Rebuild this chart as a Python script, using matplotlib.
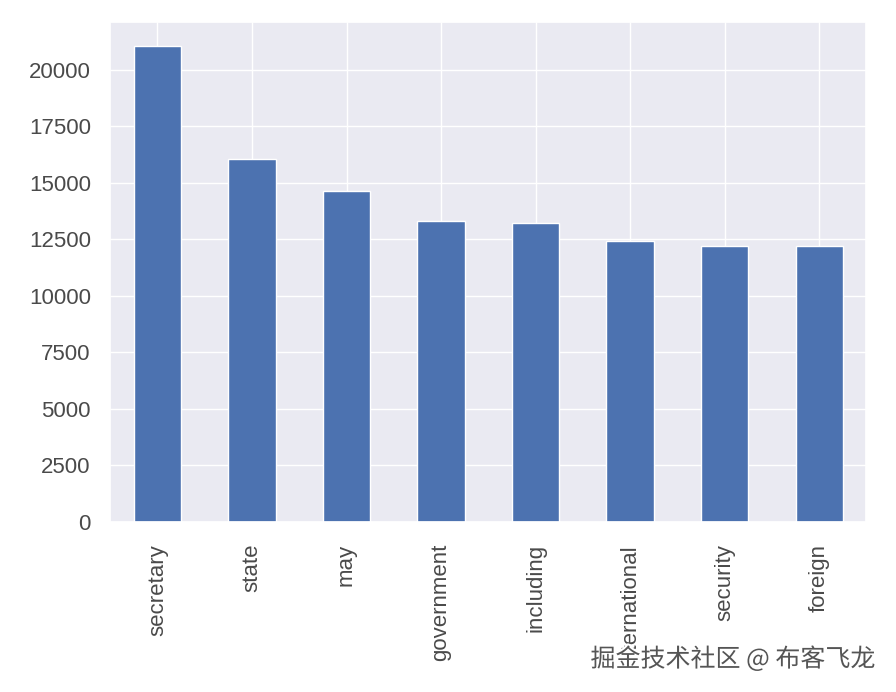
import matplotlib
matplotlib.use("Agg")
import matplotlib.pyplot as plt
import matplotlib.patheffects as pe
import seaborn as sns

# word counts
words = ["secretary", "state", "may", "government", "including",
         "international", "security", "foreign"]
counts = [21060, 16050, 14640, 13300, 13220, 12420, 12200, 12200]

sns.set_theme(style="darkgrid")
plt.rcParams['font.family'] = ['Liberation Sans', 'DejaVu Sans']

fig = plt.figure(figsize=(8.96, 6.92), dpi=100)
ax = fig.add_axes([0.123, 0.246, 0.844, 0.722])

x = range(len(words))
ax.bar(x, counts, width=0.5, color="#4C72B0")
ax.set_xlim(-0.5, len(words) - 0.5)
ax.set_ylim(0, max(counts) * 1.05)
ax.set_xticks(list(x))
ax.set_xticklabels(words, rotation=90)
ax.set_yticks(range(0, 20001, 2500))
ax.tick_params(axis="both", labelsize=16, labelcolor="#4a4a4a")
ax.tick_params(axis="y", pad=8)
ax.tick_params(axis="x", pad=10)

# watermark (sits over the last labels, as in the source image)
fig.text(0.977, 0.028, "掘金技术社区 @ 布客飞龙", ha="right", va="bottom",
         fontsize=18, color="#555555",
         family=["Noto Sans CJK SC", "DejaVu Sans"],
         path_effects=[pe.withStroke(linewidth=3, foreground="white")])

fig.savefig("out.png", dpi=100)
